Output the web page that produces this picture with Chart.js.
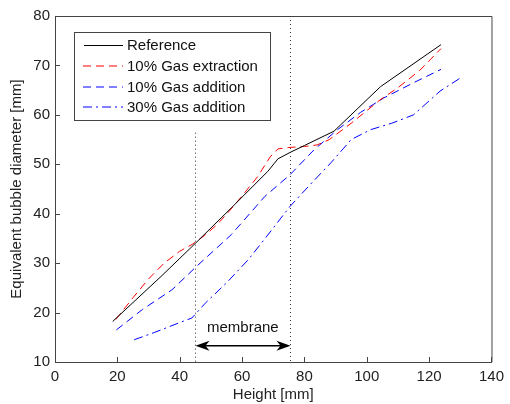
<!DOCTYPE html>
<html>
<head>
<meta charset="utf-8">
<script src="https://cdn.jsdelivr.net/npm/chart.js@4/dist/chart.umd.min.js"></script>
<style>
html,body{margin:0;padding:0;background:#fff;}
#wrap{width:510px;height:404px;position:relative;}
</style>
</head>
<body>
<div id="wrap"><canvas id="c" width="510" height="404"></canvas></div>
<script>
// ---- data ----
const seriesNames = ["Reference", "10% Gas extraction", "10% Gas addition", "30% Gas addition"];
const refX = [18.5, 34, 45, 56.6, 68.3, 71.5, 75.4, 80, 89.5, 104.4, 123.8];
const refY = [18.2, 27.3, 34, 41.2, 48.6, 51.1, 52.4, 53.8, 56.7, 65.7, 74.2];
const extX = [19.5, 25, 30, 35, 40, 44, 48, 52, 56, 60, 65, 69, 71.5, 75, 80, 84, 88, 95, 104.4, 110, 117, 123.8];
const extY = [18.6, 23, 26.8, 30, 32.4, 33.8, 35.6, 37.8, 40.6, 43.6, 47.5, 51.5, 53.1, 53.4, 53.6, 53.9, 55, 58.3, 63.1, 65.5, 69, 73.4];
const add10X = [19.7, 28, 37.5, 45.5, 56.6, 67.3, 75.4, 83.2, 90.6, 98, 105.4, 115, 123.8];
const add10Y = [16.5, 20.6, 24.6, 29.4, 35.8, 43.5, 47.9, 53, 57, 60.5, 63.4, 66.5, 69.2];
const add30X = [25.4, 32, 39.7, 43.9, 48.2, 55, 62, 68, 75.4, 82, 88.5, 95, 101.2, 108, 115, 123.5, 130.6];
const add30Y = [14.5, 16, 17.9, 18.9, 21.9, 26, 30.7, 35.5, 41.5, 46, 50.3, 55, 57, 58.3, 60, 64.8, 67.7];
const xTicks = [0, 20, 40, 60, 80, 100, 120, 140];
const yTicks = [10, 20, 30, 40, 50, 60, 70, 80];
const membraneStart = 45, membraneEnd = 75.5;
const membraneStartTop = 56.4;
const arrowY = 13.3, membraneLabelY = 17;
const membraneLabel = "membrane";

const FONT = "'Liberation Sans', Arial, sans-serif";
const pts = (xs, ys) => xs.map((x, i) => ({x: x, y: ys[i]}));

const styles = [
  {color: '#000000', dash: []},
  {color: '#ff0000', dash: [8, 5]},
  {color: '#0000ff', dash: [8, 5]},
  {color: '#0000ff', dash: [9, 4, 2, 4]}
];
const dataSets = [pts(refX, refY), pts(extX, extY), pts(add10X, add10Y), pts(add30X, add30Y)];

const overlay = {
  id: 'overlay',
  afterDatasetsDraw(chart) {
    const ctx = chart.ctx;
    const xs = chart.scales.x, ys = chart.scales.y;
    const a = chart.chartArea;
    ctx.save();
    // box top/right
    ctx.strokeStyle = '#444';
    ctx.lineWidth = 1;
    ctx.beginPath();
    ctx.moveTo(a.left, a.top + 0.5); ctx.lineTo(a.right + 0.5, a.top + 0.5); ctx.lineTo(a.right + 0.5, a.bottom);
    ctx.stroke();
    // inward ticks
    ctx.beginPath();
    xTicks.forEach(v => {
      const px = Math.round(xs.getPixelForValue(v)) + 0.5;
      ctx.moveTo(px, a.bottom); ctx.lineTo(px, a.bottom - 5);
    });
    yTicks.forEach(v => {
      const py = Math.round(ys.getPixelForValue(v)) + 0.5;
      ctx.moveTo(a.left, py); ctx.lineTo(a.left + 5, py);
    });
    ctx.stroke();
    // dotted membrane lines
    ctx.strokeStyle = '#333';
    ctx.setLineDash([1, 3]);
    ctx.beginPath();
    let px1 = Math.round(xs.getPixelForValue(membraneStart)) + 0.5;
    ctx.moveTo(px1, ys.getPixelForValue(membraneStartTop)); ctx.lineTo(px1, a.bottom);
    let px2 = Math.round(xs.getPixelForValue(membraneEnd)) + 0.5;
    ctx.moveTo(px2, a.top); ctx.lineTo(px2, a.bottom);
    ctx.stroke();
    ctx.setLineDash([]);
    // arrow
    const ay = ys.getPixelForValue(arrowY);
    ctx.strokeStyle = '#000'; ctx.fillStyle = '#000'; ctx.lineWidth = 1.5;
    ctx.beginPath(); ctx.moveTo(px1 + 6, ay); ctx.lineTo(px2 - 6, ay); ctx.stroke();
    const head = (tip, dir) => {
      ctx.beginPath();
      ctx.moveTo(tip, ay);
      ctx.lineTo(tip + dir * 14, ay - 5);
      ctx.lineTo(tip + dir * 10, ay);
      ctx.lineTo(tip + dir * 14, ay + 5);
      ctx.closePath(); ctx.fill();
    };
    head(px1, 1); head(px2, -1);
    // label
    ctx.font = '15px ' + FONT;
    ctx.textAlign = 'center'; ctx.textBaseline = 'middle';
    ctx.fillStyle = '#111';
    ctx.fillText(membraneLabel, xs.getPixelForValue((membraneStart + membraneEnd) / 2), ys.getPixelForValue(membraneLabelY));
    // legend
    const lx = 74.5, ly = 32.5, lw = 196, lh = 88;
    ctx.fillStyle = '#fff';
    ctx.fillRect(lx, ly, lw, lh);
    ctx.strokeStyle = '#444'; ctx.lineWidth = 1;
    ctx.strokeRect(lx, ly, lw, lh);
    const rows = [45, 66, 86.5, 107];
    chart.data.datasets.forEach((ds, i) => {
      const y = i === 0 ? Math.round(rows[i]) + 0.5 : Math.round(rows[i]);
      ctx.strokeStyle = styles[i].color;
      ctx.setLineDash(styles[i].dash);
      ctx.lineWidth = 1;
      ctx.beginPath();
      ctx.moveTo(i === 0 ? 84 : 83, y); ctx.lineTo(123, y); ctx.stroke();
      ctx.setLineDash([]);
      ctx.fillStyle = '#111';
      ctx.textAlign = 'left'; ctx.textBaseline = 'middle';
      ctx.fillText(ds.label, 127, rows[i] + 1);
    });
    ctx.restore();
  }
};

new Chart(document.getElementById('c'), {
  type: 'scatter',
  data: {
    datasets: dataSets.map((d, i) => ({
      label: seriesNames[i],
      data: d,
      showLine: true,
      borderColor: styles[i].color,
      borderDash: styles[i].dash,
      borderWidth: 1,
      pointRadius: 0,
      tension: 0,
      fill: false
    }))
  },
  options: {
    responsive: false,
    animation: false,
    layout: {padding: {top: 16, right: 14, left: 0, bottom: 0}},
    plugins: {legend: {display: false}, tooltip: {enabled: false}},
    scales: {
      x: {
        type: 'linear', min: 0, max: 140,
        afterBuildTicks: s => { s.ticks = xTicks.map(v => ({value: v})); },
        afterFit: s => { s.height = 42; },
        grid: {display: false, drawTicks: false},
        border: {display: true, color: '#444', width: 1},
        ticks: {padding: 6, color: '#222', font: {family: FONT, size: 15}, maxRotation: 0},
        title: {display: true, text: 'Height [mm]', color: '#222', font: {family: FONT, size: 15, lineHeight: 1.2}, padding: {top: 0, bottom: 0}}
      },
      y: {
        type: 'linear', min: 10, max: 80,
        afterBuildTicks: s => { s.ticks = yTicks.map(v => ({value: v})); },
        afterFit: s => { s.width = 55; },
        grid: {display: false, drawTicks: false},
        border: {display: true, color: '#444', width: 1},
        ticks: {padding: 5, color: '#222', font: {family: FONT, size: 15}},
        title: {display: true, text: 'Equivalent bubble diameter [mm]', color: '#222', font: {family: FONT, size: 15, lineHeight: 1.2}, padding: {top: 8, bottom: 0}}
      }
    }
  },
  plugins: [overlay]
});
</script>
</body>
</html>
